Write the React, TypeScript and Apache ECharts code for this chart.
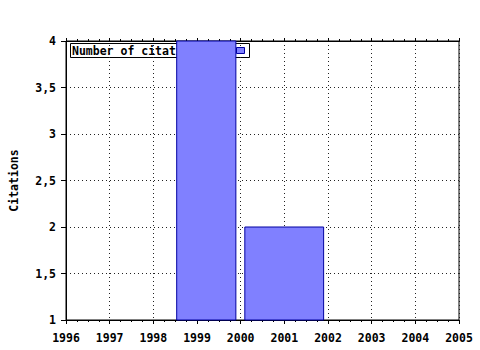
import React, { useEffect, useRef } from "react";
import * as echarts from "echarts";

const seriesName = "Number of citations";
const barStart = [1998.535, 2000.095];
const barEnd = [1999.89, 2001.9];
const citations = [4, 2];
const xMin = 1996;
const xMax = 2005;
const yMin = 1;
const yMax = 4;

const FONT = "'DejaVu Sans Mono', 'Liberation Mono', monospace";
const BAR_FILL = "#8080ff";
const BAR_STROKE = "#0000a0";

export default function App() {
  const ref = useRef<HTMLDivElement>(null);
  useEffect(() => {
    if (!ref.current) return;
    const chart = echarts.init(ref.current, null, { renderer: "svg" });
    const data = citations.map((v, i) => [barStart[i], barEnd[i], v]);
    const labelStyle = { color: "#000", fontFamily: FONT, fontWeight: "bold" as const, fontSize: 11.5 };
    chart.setOption({
      animation: false,
      backgroundColor: "#fff",
      grid: { left: 65, right: 21, top: 41, bottom: 30, show: true, borderColor: "#000", borderWidth: 1, backgroundColor: "transparent" },
      graphic: [
        {
          type: "group",
          left: 70,
          top: 43,
          z: 0,
          children: [
            { type: "rect", x: 0.5, y: 0.5, shape: { width: 179, height: 14 }, style: { fill: "#fff", stroke: "#000", lineWidth: 1 }, z: 0 },
            {
              type: "text",
              x: 2,
              y: 7.5,
              style: { text: seriesName, fill: "#000", font: `bold 11.5px ${FONT}`, verticalAlign: "middle", align: "left" },
              z: 1,
            },
            { type: "rect", x: 166.5, y: 4.5, shape: { width: 8, height: 6 }, style: { fill: BAR_FILL, stroke: BAR_STROKE, lineWidth: 1 }, z: 1 },
          ],
        },
      ],
      xAxis: [
        {
          type: "value",
          position: "bottom",
          min: xMin,
          max: xMax,
          interval: 1,
          axisLine: { show: true, lineStyle: { color: "#000", width: 1 } },
          axisTick: { show: true, length: 4, lineStyle: { color: "#000" } },
          minorTick: { show: true, splitNumber: 4, length: 2, lineStyle: { color: "#000" } },
          axisLabel: { ...labelStyle, margin: 12, formatter: (v: number) => String(v) },
          splitLine: { show: true, lineStyle: { color: "#222", type: [1, 3], width: 1 } },
        },
        {
          type: "value",
          position: "top",
          min: xMin,
          max: xMax,
          interval: 1,
          axisLine: { show: true, lineStyle: { color: "#000", width: 1 } },
          axisTick: { show: true, length: 3, lineStyle: { color: "#000" } },
          minorTick: { show: true, splitNumber: 4, length: 2, lineStyle: { color: "#000" } },
          axisLabel: { show: false },
          splitLine: { show: false },
        },
      ],
      yAxis: {
        type: "value",
        min: yMin,
        max: yMax,
        interval: 0.5,
        name: "Citations",
        nameLocation: "middle",
        nameGap: 46,
        nameTextStyle: labelStyle,
        axisLine: { show: true, lineStyle: { color: "#000", width: 1 } },
        axisTick: { show: true, length: 5, lineStyle: { color: "#000" } },
        axisLabel: { ...labelStyle, margin: 10, formatter: (v: number) => String(v).replace(".", ",") },
        splitLine: { show: true, lineStyle: { color: "#222", type: [1, 3], width: 1 } },
      },
      series: [
        {
          type: "custom",
          name: seriesName,
          z: 2,
          xAxisIndex: 0,
          data,
          encode: { x: [0, 1], y: 2 },
          renderItem: (params: any, api: any) => {
            const p0 = api.coord([api.value(0), yMin]);
            const p1 = api.coord([api.value(1), api.value(2)]);
            return {
              type: "rect",
              shape: { x: p0[0], y: p1[1], width: p1[0] - p0[0], height: p0[1] - p1[1] },
              style: { fill: BAR_FILL, stroke: BAR_STROKE, lineWidth: 1 },
            };
          },
        },
      ],
    });
    return () => chart.dispose();
  }, []);
  return <div ref={ref} style={{ width: 480, height: 350, position: "absolute", left: 0, top: 0 }} />;
}
